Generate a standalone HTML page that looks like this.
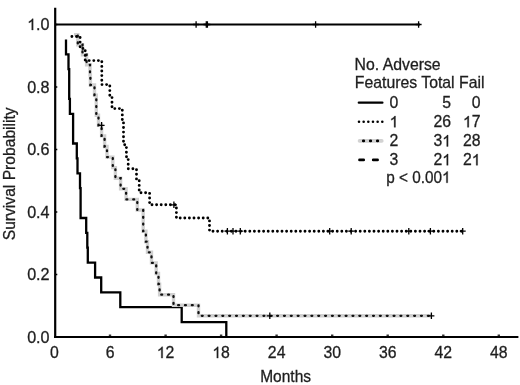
<!DOCTYPE html>
<html><head><meta charset="utf-8"><style>
html,body{margin:0;padding:0;background:#fff;}
svg{display:block;filter:blur(0.35px);}
text{font-family:"Liberation Sans",sans-serif;font-size:15px;fill:#1e1e1e;stroke:#1e1e1e;stroke-width:0.3px;}
.h{fill-opacity:0;stroke-opacity:0;}
.one{fill:#1e1e1e;stroke:#1e1e1e;stroke-width:0.3px;vector-effect:non-scaling-stroke;}
</style></head><body>
<svg width="520" height="385" viewBox="0 0 520 385">
<rect width="520" height="385" fill="#fff"/>
<path d="M55.2,7.8 V337 M54,337 H518.4" stroke="#000" stroke-width="2.2" fill="none"/>
<path d="M108.8,335.2 H111.2" stroke="#000" stroke-width="1.2"/><path d="M164.4,335.2 H166.8" stroke="#000" stroke-width="1.2"/><path d="M219.9,335.2 H222.3" stroke="#000" stroke-width="1.2"/><path d="M275.4,335.2 H277.8" stroke="#000" stroke-width="1.2"/><path d="M331.0,335.2 H333.4" stroke="#000" stroke-width="1.2"/><path d="M386.5,335.2 H388.9" stroke="#000" stroke-width="1.2"/><path d="M442.1,335.2 H444.5" stroke="#000" stroke-width="1.2"/><path d="M497.6,335.2 H500.0" stroke="#000" stroke-width="1.2"/><path d="M55.5,337.0 H57.3" stroke="#000" stroke-width="1.5"/><path d="M55.5,274.5 H57.3" stroke="#000" stroke-width="1.5"/><path d="M55.5,212.0 H57.3" stroke="#000" stroke-width="1.5"/><path d="M55.5,149.5 H57.3" stroke="#000" stroke-width="1.5"/><path d="M55.5,87.0 H57.3" stroke="#000" stroke-width="1.5"/><path d="M55.5,24.5 H57.3" stroke="#000" stroke-width="1.5"/>
<g transform="translate(54.50,358.10) scale(0.964,1)"><text id="t1" style="font-size:16.4px" text-anchor="middle">0</text></g><g transform="translate(110.04,358.10) scale(0.964,1)"><text id="t2" style="font-size:16.4px" text-anchor="middle">6</text></g><g transform="translate(165.57,358.10) scale(0.964,1)"><text id="t3" style="font-size:16.4px" text-anchor="middle"><tspan class="h">1</tspan>2</text><path class="one" transform="translate(-9.116,0) scale(0.00801,-0.00767)" d="M763,0 L583,0 L583,1147 Q518,1085 412.5,1023 Q307,961 223,930 L223,1104 Q374,1175 487,1276 Q600,1377 647,1472 L763,1472 Z"/></g><g transform="translate(221.11,358.10) scale(0.964,1)"><text id="t4" style="font-size:16.4px" text-anchor="middle"><tspan class="h">1</tspan>8</text><path class="one" transform="translate(-9.116,0) scale(0.00801,-0.00767)" d="M763,0 L583,0 L583,1147 Q518,1085 412.5,1023 Q307,961 223,930 L223,1104 Q374,1175 487,1276 Q600,1377 647,1472 L763,1472 Z"/></g><g transform="translate(276.65,358.10) scale(0.964,1)"><text id="t5" style="font-size:16.4px" text-anchor="middle">24</text></g><g transform="translate(332.19,358.10) scale(0.964,1)"><text id="t6" style="font-size:16.4px" text-anchor="middle">30</text></g><g transform="translate(387.72,358.10) scale(0.964,1)"><text id="t7" style="font-size:16.4px" text-anchor="middle">36</text></g><g transform="translate(443.26,358.10) scale(0.964,1)"><text id="t8" style="font-size:16.4px" text-anchor="middle">42</text></g><g transform="translate(498.80,358.10) scale(0.964,1)"><text id="t9" style="font-size:16.4px" text-anchor="middle">48</text></g><g transform="translate(49.60,342.50) scale(0.986,1)"><text id="t10" style="font-size:16.4px" text-anchor="end">0.0</text></g><g transform="translate(49.60,280.00) scale(0.986,1)"><text id="t11" style="font-size:16.4px" text-anchor="end">0.2</text></g><g transform="translate(49.60,217.50) scale(0.986,1)"><text id="t12" style="font-size:16.4px" text-anchor="end">0.4</text></g><g transform="translate(49.60,155.00) scale(0.986,1)"><text id="t13" style="font-size:16.4px" text-anchor="end">0.6</text></g><g transform="translate(49.60,92.50) scale(0.986,1)"><text id="t14" style="font-size:16.4px" text-anchor="end">0.8</text></g><g transform="translate(49.60,30.00) scale(0.986,1)"><text id="t15" style="font-size:16.4px" text-anchor="end"><tspan class="h">1</tspan>.0</text><path class="one" transform="translate(-22.784,0) scale(0.00801,-0.00767)" d="M763,0 L583,0 L583,1147 Q518,1085 412.5,1023 Q307,961 223,930 L223,1104 Q374,1175 487,1276 Q600,1377 647,1472 L763,1472 Z"/></g>
<g transform="translate(285.60,382.10) scale(0.945,1)"><text id="t16" style="font-size:16.4px" text-anchor="middle">Months</text></g>
<g transform="translate(15.20,173.80) rotate(-90) scale(0.978,1)"><text id="t17" style="font-size:16.0px" text-anchor="middle">Survival Probability</text></g>
<path d="M55,24.5 H420" stroke="#000" stroke-width="2.2" fill="none"/>
<path d="M196.1,21.2 V27.8 M193.1,24.5 H199.1" stroke="#000" stroke-width="1.3" fill="none"/><path d="M206.3,21.2 V27.8 M203.3,24.5 H209.3" stroke="#000" stroke-width="1.3" fill="none"/><path d="M207.4,21.2 V27.8 M204.4,24.5 H210.4" stroke="#000" stroke-width="1.3" fill="none"/><path d="M315.6,21.2 V27.8 M312.6,24.5 H318.6" stroke="#000" stroke-width="1.3" fill="none"/><path d="M418.6,21.2 V27.8 M415.6,24.5 H421.6" stroke="#000" stroke-width="1.3" fill="none"/>
<path d="M66.0,39.4 H66.0 V54.3 H68.5 V69.1 H69.2 V98.9 H69.9 V113.8 H73.1 V143.5 H76.8 V158.4 H77.5 V173.3 H80.0 V188.2 H80.6 V218.0 H86.2 V232.8 H87.3 V247.7 H87.8 V262.6 H95.1 V277.5 H101.2 V292.4 H120.3 V307.2 H181.7 V322.1 H226.3 V337.0" stroke="#000" stroke-width="2.3" fill="none"/>
<path d="M74.0,34.6 H77.8 V44.7 H82.5 V54.7 H86.6 V64.8 H90.0 V74.9 H90.4 V85.0 H94.5 V95.1 H96.3 V115.2 H98.5 V125.3 H101.6 V135.9 H104.6 V146.5 H107.0 V157.1 H112.8 V167.6 H115.4 V178.2 H120.6 V188.8 H126.1 V199.4 H137.3 V210.0 H143.2 V231.2 H145.9 V241.7 H147.5 V252.3 H151.5 V262.9 H156.2 V273.5 H158.5 V284.1 H159.6 V294.7 H173.5 V305.2 H198.5 V315.8 H432.0" stroke="#d0d0d0" stroke-width="3.4" fill="none"/>
<path d="M74.0,34.6 H77.8 V44.7 H82.5 V54.7 H86.6 V64.8 H90.0 V74.9 H90.4 V85.0 H94.5 V95.1 H96.3 V115.2 H98.5 V125.3 H101.6 V135.9 H104.6 V146.5 H107.0 V157.1 H112.8 V167.6 H115.4 V178.2 H120.6 V188.8 H126.1 V199.4 H137.3 V210.0 H143.2 V231.2 H145.9 V241.7 H147.5 V252.3 H151.5 V262.9 H156.2 V273.5 H158.5 V284.1 H159.6 V294.7 H173.5 V305.2 H198.5 V315.8 H432.0" stroke="#111" stroke-width="2.3" stroke-dasharray="0.9 5.95" stroke-dashoffset="-4.85" stroke-linecap="round" fill="none"/>
<path d="M101.6,122.0 V128.6 M98.6,125.3 H104.6" stroke="#000" stroke-width="1.3" fill="none"/><path d="M269.8,312.5 V319.1 M266.8,315.8 H272.8" stroke="#000" stroke-width="1.3" fill="none"/><path d="M431.4,312.5 V319.1 M428.4,315.8 H434.4" stroke="#000" stroke-width="1.3" fill="none"/>
<path d="M71.0,36.5 H80.1 V48.5 H85.2 V60.6 H101.8 V84.6 H109.8 V96.6 H112.0 V108.6 H122.3 V120.7 H123.5 V144.7 H126.4 V156.7 H128.2 V168.7 H136.5 V180.8 H139.2 V192.8 H149.6 V204.8 H176.4 V218.0 H209.5 V231.2 H463.0" stroke="#000" stroke-width="2.9" stroke-dasharray="0 4.6" stroke-dashoffset="-0.9" stroke-linecap="round" fill="none"/>
<path d="M173.9,201.5 V208.1 M170.9,204.8 H176.9" stroke="#000" stroke-width="1.3" fill="none"/><path d="M227.4,227.9 V234.5 M224.4,231.2 H230.4" stroke="#000" stroke-width="1.3" fill="none"/><path d="M233.0,227.9 V234.5 M230.0,231.2 H236.0" stroke="#000" stroke-width="1.3" fill="none"/><path d="M240.3,227.9 V234.5 M237.3,231.2 H243.3" stroke="#000" stroke-width="1.3" fill="none"/><path d="M329.7,227.9 V234.5 M326.7,231.2 H332.7" stroke="#000" stroke-width="1.3" fill="none"/><path d="M351.2,227.9 V234.5 M348.2,231.2 H354.2" stroke="#000" stroke-width="1.3" fill="none"/><path d="M408.8,227.9 V234.5 M405.8,231.2 H411.8" stroke="#000" stroke-width="1.3" fill="none"/><path d="M430.4,227.9 V234.5 M427.4,231.2 H433.4" stroke="#000" stroke-width="1.3" fill="none"/><path d="M462.7,227.9 V234.5 M459.7,231.2 H465.7" stroke="#000" stroke-width="1.3" fill="none"/>
<g transform="translate(354.60,69.50) scale(0.964,1)"><text id="t18" style="font-size:16.4px">No. Adverse</text></g><g transform="translate(354.80,87.70) scale(0.964,1)"><text id="t19" style="font-size:16.4px">Features Total Fail</text></g><g transform="translate(389.60,108.00) scale(0.964,1)"><text id="t20" style="font-size:16.4px">0</text></g><g transform="translate(451.00,108.00) scale(0.964,1)"><text id="t21" style="font-size:16.4px" text-anchor="end">5</text></g><g transform="translate(480.50,108.00) scale(0.964,1)"><text id="t22" style="font-size:16.4px" text-anchor="end">0</text></g><g transform="translate(389.60,127.30) scale(0.964,1)"><text id="t23" style="font-size:16.4px"><tspan class="h">1</tspan></text><path class="one" transform="translate(0.000,0) scale(0.00801,-0.00767)" d="M763,0 L583,0 L583,1147 Q518,1085 412.5,1023 Q307,961 223,930 L223,1104 Q374,1175 487,1276 Q600,1377 647,1472 L763,1472 Z"/></g><g transform="translate(451.00,127.30) scale(0.964,1)"><text id="t24" style="font-size:16.4px" text-anchor="end">26</text></g><g transform="translate(480.50,127.30) scale(0.964,1)"><text id="t25" style="font-size:16.4px" text-anchor="end"><tspan class="h">1</tspan>7</text><path class="one" transform="translate(-18.231,0) scale(0.00801,-0.00767)" d="M763,0 L583,0 L583,1147 Q518,1085 412.5,1023 Q307,961 223,930 L223,1104 Q374,1175 487,1276 Q600,1377 647,1472 L763,1472 Z"/></g><g transform="translate(389.60,146.40) scale(0.964,1)"><text id="t26" style="font-size:16.4px">2</text></g><g transform="translate(451.00,146.40) scale(0.964,1)"><text id="t27" style="font-size:16.4px" text-anchor="end">3<tspan class="h">1</tspan></text><path class="one" transform="translate(-9.116,0) scale(0.00801,-0.00767)" d="M763,0 L583,0 L583,1147 Q518,1085 412.5,1023 Q307,961 223,930 L223,1104 Q374,1175 487,1276 Q600,1377 647,1472 L763,1472 Z"/></g><g transform="translate(480.50,146.40) scale(0.964,1)"><text id="t28" style="font-size:16.4px" text-anchor="end">28</text></g><g transform="translate(389.60,165.30) scale(0.964,1)"><text id="t29" style="font-size:16.4px">3</text></g><g transform="translate(451.00,165.30) scale(0.964,1)"><text id="t30" style="font-size:16.4px" text-anchor="end">2<tspan class="h">1</tspan></text><path class="one" transform="translate(-9.116,0) scale(0.00801,-0.00767)" d="M763,0 L583,0 L583,1147 Q518,1085 412.5,1023 Q307,961 223,930 L223,1104 Q374,1175 487,1276 Q600,1377 647,1472 L763,1472 Z"/></g><g transform="translate(480.50,165.30) scale(0.964,1)"><text id="t31" style="font-size:16.4px" text-anchor="end">2<tspan class="h">1</tspan></text><path class="one" transform="translate(-9.116,0) scale(0.00801,-0.00767)" d="M763,0 L583,0 L583,1147 Q518,1085 412.5,1023 Q307,961 223,930 L223,1104 Q374,1175 487,1276 Q600,1377 647,1472 L763,1472 Z"/></g><path d="M358.8,102.7 H382.4" stroke="#000" stroke-width="2.3" stroke-linecap="round"/><path d="M359,121.8 H382.4" stroke="#000" stroke-width="2.6" stroke-dasharray="0 4.66" stroke-linecap="round"/><path d="M359.5,140.9 H381.8" stroke="#d2d2d2" stroke-width="3.6" stroke-linecap="round"/><path d="M363.3,140.9 H378" stroke="#000" stroke-width="2.7" stroke-dasharray="0.5 6.5" stroke-linecap="round"/><path d="M359.5,159.9 H363.7 M373.2,159.9 H377.6" stroke="#000" stroke-width="2.7" stroke-linecap="round"/><g transform="translate(386.20,182.80) scale(0.935,1)"><text id="t32" style="font-size:16.4px">p &lt; 0.00<tspan class="h">1</tspan></text><path class="one" transform="translate(59.672,0) scale(0.00801,-0.00767)" d="M763,0 L583,0 L583,1147 Q518,1085 412.5,1023 Q307,961 223,930 L223,1104 Q374,1175 487,1276 Q600,1377 647,1472 L763,1472 Z"/></g>
</svg>
</body></html>
